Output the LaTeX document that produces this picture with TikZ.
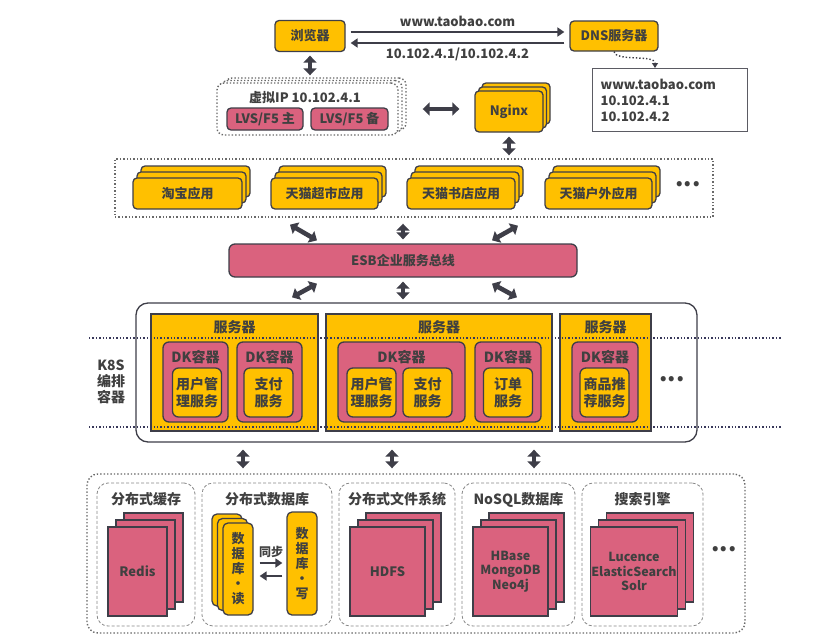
\documentclass[tikz,border=0pt]{standalone}
\usepackage{fontspec}
\setmainfont{Noto Sans CJK SC}
\usetikzlibrary{arrows.meta, positioning, calc, shadows}
\definecolor{cYellow}{RGB}{255,192,0}
\definecolor{cPink}{RGB}{218,98,126}
\definecolor{cLine}{RGB}{62,62,72}
\definecolor{cText}{RGB}{64,64,64}
\definecolor{cDot}{RGB}{105,105,105}
\newcommand{\fsz}[2]{\fontsize{#1}{#2}\selectfont\bfseries}
\tikzset{
    wh/.style 2 args={minimum width=#1pt, minimum height=#2pt},
    ybox/.style={rectangle, rounded corners=4pt, draw=cLine, line width=1.3pt, fill=cYellow, align=center, inner sep=1pt},
    pbox/.style={ybox, fill=cPink},
    server/.style={rectangle, draw=cLine, line width=1.3pt, fill=cYellow},
    dotframe/.style={rectangle, draw=cDot, dotted, line width=1.4pt},
    panel/.style={rectangle, rounded corners=11pt, draw=cDot!80, densely dashed, line width=0.8pt, fill=white},
    appstack/.style={double copy shadow={shadow xshift=4pt, shadow yshift=6pt}},
    dbstack/.style={pbox, rounded corners=0pt, double copy shadow={shadow xshift=8pt, shadow yshift=7pt}},
    dblarrow/.style={{Triangle[length=7pt,width=13pt]}-{Triangle[length=7pt,width=13pt]}, line width=4.6pt, draw=cLine},
    onearrow/.style={-{Triangle[length=7pt,width=9pt]}, line width=1.8pt, draw=cLine},
}

\begin{document}
\begin{tikzpicture}[x=1pt, y=-1pt, font=\fsz{13}{16}, text=cText]
    \useasboundingbox (0,0) rectangle (817,640);
    % browser and DNS
    \node[ybox, wh={70}{31}] (browser) at (310,36) {浏览器};
    \node[ybox, wh={88}{30}] (dns) at (614,36) {DNS服务器};
    \draw[onearrow] ($(browser.east)+(5,-4)$) -- node[above=1pt]{www.taobao.com} ($(dns.west)+(-5,-4)$);
    \draw[onearrow] ($(dns.west)+(-5,7)$) -- node[below=1pt]{10.102.4.1/10.102.4.2} ($(browser.east)+(5,7)$);
    \node[draw=cLine!85, line width=1.2pt, fill=white, anchor=north west, align=left, text width=139pt, inner xsep=8pt, wh={155}{63}] (dnsinfo) at (592,68) {www.taobao.com\\10.102.4.1\\10.102.4.2};
    \draw[cLine, dotted, line width=1.4pt, -{Triangle[length=5pt,width=6pt]}] (dns.south) .. controls (616,62) and (655,54) .. ($(dnsinfo.north west)+(63,0)$);

    % load balancer and nginx
    \node[rectangle, rounded corners=7pt, draw=cDot, dotted, line width=1.4pt, fill=white, double copy shadow={shadow xshift=4pt, shadow yshift=2.5pt}, wh={181}{52}] (vip) at (307.5,109) {};
    \node (viptitle) at (305,98) {虚拟IP 10.102.4.1};
    \node[pbox, wh={76}{22}] (lvsA) at (265,119) {LVS/F5 主};
    \node[pbox, wh={77}{22}] (lvsB) at (349.5,119) {LVS/F5 备};
    \node[ybox, double copy shadow={shadow xshift=3.5pt, shadow yshift=4pt}, wh={68}{41}] (nginx) at (509,111.5) {Nginx};
    \draw[dblarrow, shorten <=3.5pt, shorten >=7pt] (browser.south) -- (browser.south |- vip.north);
    \draw[dblarrow, line width=3.6pt, shorten <=24pt, shorten >=15pt] (vip.east) -- (vip.east -| nginx.west);

    % applications
    \node[dotframe, wh={598}{58}] (apps) at (414,188) {};
    \node[ybox, appstack, wh={109}{31}] (taobao) at (187.5,193.5) {淘宝应用};
    \node[ybox, appstack, wh={107}{31}] (chaoshi) at (324.5,193.5) {天猫超市应用};
    \node[ybox, appstack, wh={108}{31}] (shudian) at (461,193.5) {天猫书店应用};
    \node[ybox, appstack, wh={107}{31}] (huwai) at (598.5,193.5) {天猫户外应用};
    \node[font=\fsz{24}{24}] (appmore) at (688,184) {...};
    \draw[dblarrow, shorten <=4pt, shorten >=3pt] (nginx.south) -- (nginx.south |- apps.north);

    % ESB
    \node[pbox, rounded corners=6pt, wh={348}{33}] (esb) at (403,260.5) {ESB企业服务总线};
    \draw[dblarrow] ($(apps.south)+(-124,7)$) -- ($(esb.north)+(-86,-3)$);
    \draw[dblarrow, shorten <=4pt, shorten >=6pt] (esb.north) -- (esb.north |- apps.south);
    \draw[dblarrow] ($(apps.south)+(104,8)$) -- ($(esb.north)+(89,-3)$);

    % K8S
    \node[rectangle, rounded corners=12pt, draw=cLine, line width=1.3pt, wh={561}{139}] (k8s) at (416.5,372.5) {};
    \draw[dblarrow] ($(esb.south)+(-86,6)$) -- ($(k8s.north)+(-124.5,-5)$);
    \draw[dblarrow, shorten <=4pt, shorten >=3pt] (esb.south) -- (esb.south |- k8s.north);
    \draw[dblarrow] ($(esb.south)+(89,6)$) -- ($(k8s.north)+(100.5,-5)$);
    \node[align=center, font=\fsz{14}{16}] (k8slabel) at (111,382) {K8S\\编排\\容器};

    \node[server, wh={167}{117}] (srvA) at (234.5,372.5) {};
    \node[server, wh={226}{117}] (srvB) at (439,372.5) {};
    \node[server, wh={91}{117}] (srvC) at (605.5,372.5) {};
    \foreach \s in {srvA, srvB, srvC}
        \node[font=\fsz{14}{16}] (\s title) at ($(\s.north)+(0,14)$) {服务器};

    \node[pbox, rounded corners=6pt, wh={65}{80}] (dkA) at (195.5,382) {};
    \node[pbox, rounded corners=6pt, wh={65}{80}] (dkB) at (269.5,382) {};
    \node[pbox, rounded corners=6pt, wh={127}{80}] (dkC) at (401.5,382) {};
    \node[pbox, rounded corners=6pt, wh={66}{80}] (dkD) at (508,382) {};
    \node[pbox, rounded corners=6pt, wh={66}{80}] (dkE) at (605,382) {};
    \foreach \d in {dkA, dkB, dkC, dkD, dkE}
        \node[font=\fsz{14}{16}] (\d title) at ($(\d.north)+(0,16)$) {DK容器};

    \begin{scope}[every node/.style={ybox, rounded corners=6pt, font=\fsz{14}{16.5}, wh={49}{49}}]
        \node (svcA) at (197,392.5) {用户管\\理服务};
        \node (svcB) at (268.5,392.5) {支付\\服务};
        \node (svcC) at (371.5,392.5) {用户管\\理服务};
        \node (svcD) at (427.5,392.5) {支付\\服务};
        \node (svcE) at (508,392.5) {订单\\服务};
        \node (svcF) at (604.5,392.5) {商品推\\荐服务};
    \end{scope}
    \node[font=\fsz{24}{24}] (k8smore) at (672,379) {...};

    % dotted guide lines
    \coordinate (guideAl) at (89,338);
    \coordinate (guideAr) at (782,338);
    \coordinate (guideBl) at (89,427);
    \coordinate (guideBr) at (782,427);
    \draw[cLine!90!blue, dotted, line width=1.4pt] (guideAl) -- (guideAr);
    \draw[cLine!90!blue, dotted, line width=1.4pt] (guideBl) -- (guideBr);

    % storage
    \node[rectangle, rounded corners=11pt, draw=cDot, dotted, line width=1.4pt, wh={658}{159}] (store) at (416,553.5) {};
    \draw[dblarrow] ($(k8s.south)+(-173.5,7)$) -- ($(store.north)+(-173,-5)$);
    \draw[dblarrow] ($(k8s.south)+(-24.5,7)$) -- ($(store.north)+(-24,-5)$);
    \draw[dblarrow] ($(k8s.south)+(117.5,7)$) -- ($(store.north)+(118,-5)$);

    \node[panel, wh={98}{143}] (cache) at (146,554.5) {};
    \node[panel, wh={130}{143}] (dbase) at (267,554.5) {};
    \node[panel, wh={116}{143}] (files) at (397,554.5) {};
    \node[panel, wh={113}{143}] (nosql) at (518.5,554.5) {};
    \node[panel, wh={121}{143}] (search) at (642.5,554.5) {};
    \node[font=\fsz{14}{16}] (cachetitle) at ($(cache.north)+(0,17)$) {分布式缓存};
    \node[font=\fsz{14}{16}] (dbasetitle) at ($(dbase.north)+(0,17)$) {分布式数据库};
    \node[font=\fsz{14}{16}] (filestitle) at ($(files.north)+(0,17)$) {分布式文件系统};
    \node[font=\fsz{14}{16}] (nosqltitle) at ($(nosql.north)+(0,17)$) {NoSQL数据库};
    \node[font=\fsz{14}{16}] (searchtitle) at ($(search.north)+(0,17)$) {搜索引擎};

    \node[dbstack, wh={59}{89}] (redis) at (137.5,571.5) {Redis};
    \node[dbstack, wh={75}{89}] (hdfs) at (387.5,571.5) {HDFS};
    \node[dbstack, wh={75}{89}, font=\fsz{12.5}{14.5}] (nosqlstack) at (510.5,571.5) {HBase\\MongoDB\\Neo4j};
    \node[dbstack, wh={86}{89}, font=\fsz{12.5}{14.5}] (searchstack) at (634,571.5) {Lucence\\ElasticSearch\\Solr};

    \node[ybox, rounded corners=5pt, double copy shadow={shadow xshift=-5.5pt, shadow yshift=4.5pt}, wh={30}{92}, font=\fsz{13}{15}] (dbread) at (238,569) {数\\据\\库\\·\\读};
    \node[ybox, rounded corners=5pt, wh={30}{103}, font=\fsz{13}{15}] (dbwrite) at (302,563.5) {数\\据\\库\\·\\写};
    \draw[onearrow] ($(dbread.east)+(6,-6)$) -- node[above=1pt, font=\fsz{12}{14}]{同步} ($(dbwrite.west)+(-4,-0.5)$);
    \draw[onearrow] ($(dbwrite.west)+(-4,12.5)$) -- ($(dbread.east)+(6,7)$);
    \node[font=\fsz{24}{24}] (storemore) at (724,549) {...};
\end{tikzpicture}
\end{document}
